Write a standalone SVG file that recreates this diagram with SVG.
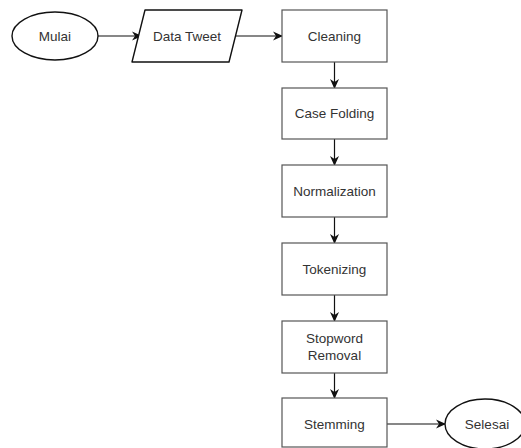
<svg xmlns="http://www.w3.org/2000/svg" width="521" height="448" viewBox="0 0 521 448">
<style>
.t{font-family:"Liberation Sans",Arial,sans-serif;font-size:13.5px;fill:#333;text-anchor:middle;dominant-baseline:central}
.r{fill:#fff;stroke:#555;stroke-width:1.2}
.e{fill:#fff;stroke:#111;stroke-width:1.4}
.c{fill:none;stroke:#111;stroke-width:1.2}
</style>
<defs>
<marker id="a" viewBox="0 0 10 10" refX="9" refY="5" markerWidth="10" markerHeight="10" markerUnits="userSpaceOnUse" orient="auto">
<path d="M0,0.5 L10,5 L0,9.5 L3,5 Z" fill="#111"/>
</marker>
</defs>
<rect width="521" height="448" fill="#fff"/>
<g id="connectors">
<path class="c" d="M98,36 H141" marker-end="url(#a)"/>
<path class="c" d="M235,36 H282" marker-end="url(#a)"/>
<path class="c" d="M334.5,62 V88" marker-end="url(#a)"/>
<path class="c" d="M334.5,139 V165" marker-end="url(#a)"/>
<path class="c" d="M334.5,217 V243" marker-end="url(#a)"/>
<path class="c" d="M334.5,295 V321" marker-end="url(#a)"/>
<path class="c" d="M334.5,373 V398" marker-end="url(#a)"/>
<path class="c" d="M387,424 H445" marker-end="url(#a)"/>
</g>
<g id="mulai"><ellipse class="e" cx="55" cy="36" rx="43" ry="24"/><text class="t" x="55" y="36">Mulai</text></g>
<g id="data-tweet"><path class="e" d="M145,10 H242 L229,62 H132 Z" stroke-linejoin="round"/><text class="t" x="187" y="36">Data Tweet</text></g>
<g id="cleaning"><rect class="r" x="282" y="10" width="105" height="52"/><text class="t" x="334.5" y="36">Cleaning</text></g>
<g id="case-folding"><rect class="r" x="282" y="88" width="105" height="51"/><text class="t" x="334.5" y="113.5">Case Folding</text></g>
<g id="normalization"><rect class="r" x="282" y="165" width="105" height="52"/><text class="t" x="334.5" y="191">Normalization</text></g>
<g id="tokenizing"><rect class="r" x="282" y="243" width="105" height="52"/><text class="t" x="334.5" y="269">Tokenizing</text></g>
<g id="stopword-removal"><rect class="r" x="282" y="321" width="105" height="52"/><text class="t" x="334.5" y="338.5">Stopword</text><text class="t" x="334.5" y="355.5">Removal</text></g>
<g id="stemming"><rect class="r" x="282" y="398" width="105" height="49"/><text class="t" x="334.5" y="424">Stemming</text></g>
<g id="selesai"><ellipse class="e" cx="485" cy="424" rx="40" ry="25"/><text class="t" x="487" y="424">Selesai</text></g>
</svg>
